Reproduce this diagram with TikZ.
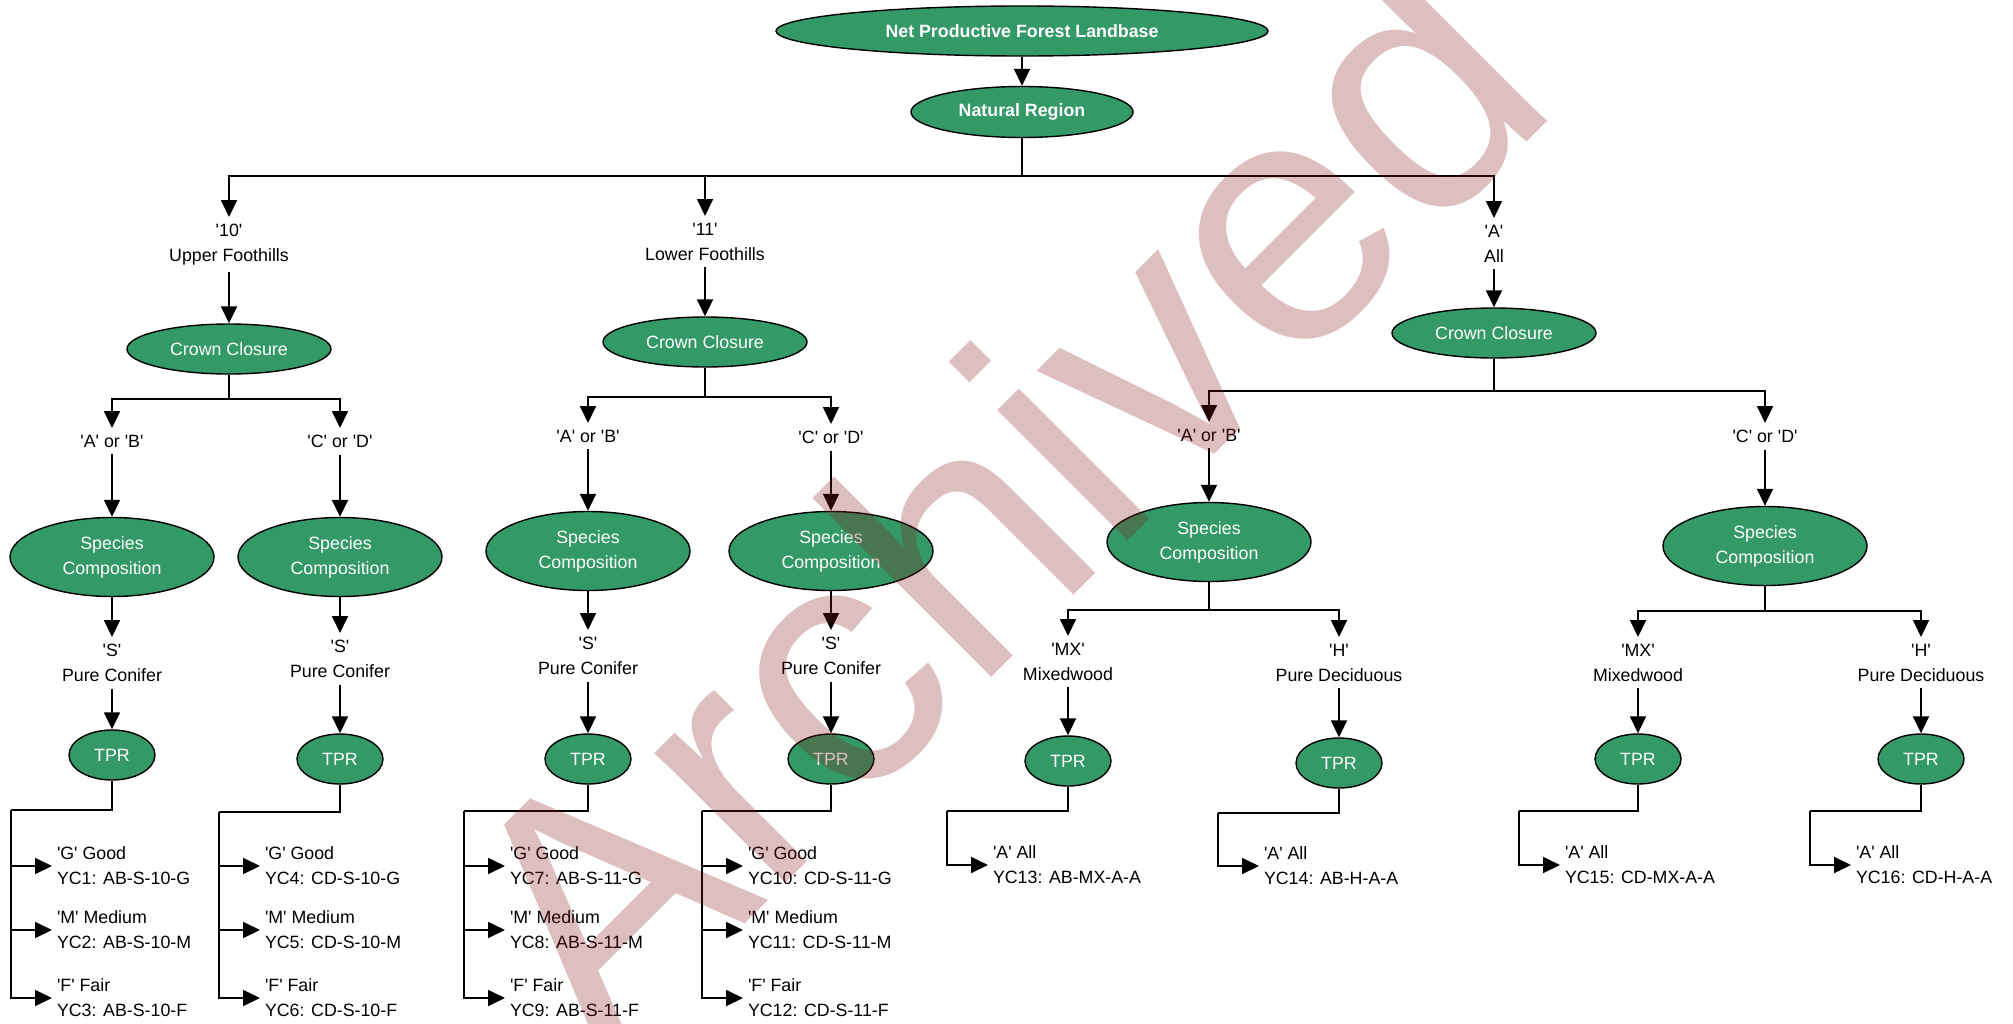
\documentclass[tikz,border=0pt]{standalone}
\usepackage{fontspec}
\setmainfont{Liberation Sans}[Ligatures=TeXOff]
\usetikzlibrary{shapes.geometric,arrows.meta}
\definecolor{nodegreen}{RGB}{51,153,102}
\definecolor{stampred}{RGB}{135,22,26}
\begin{document}
\begin{tikzpicture}[x=1pt,y=-1pt,
  txt/.style={font=\fontsize{17.8}{25}\selectfont},
  oval/.style={ellipse,draw=black,line width=1.4pt,fill=nodegreen,text=white,
    inner sep=0pt,align=center,txt},
  headoval/.style={oval,font=\fontsize{17.8}{25}\selectfont\bfseries},
  ccoval/.style={oval,minimum width=204pt,minimum height=50pt},
  scoval/.style={oval,minimum width=204pt,minimum height=79pt},
  tproval/.style={oval,minimum width=86pt,minimum height=50pt},
  lbl/.style={txt,align=center,inner sep=0pt,outer ysep=7pt,anchor=north},
  yc/.style={txt,align=left,inner sep=0pt,outer xsep=5pt,anchor=west},
  link/.style={line width=1.8pt},
  arr/.style={link,-{Triangle[length=17pt,width=16pt]}},
]
\useasboundingbox (0,0) rectangle (2013,1023);

% --- top of the tree
\node[headoval,minimum width=492pt,minimum height=50pt] (npf) at (1022,31) {Net Productive Forest Landbase};
\node[headoval,minimum width=222pt,minimum height=51pt] (nr) at (1022,112) {Natural Region};
\draw[arr] (npf) -- (nr);

\coordinate (j0) at (1022,176);
\node[lbl] (r10) at (229,217) {'10'\\Upper Foothills};
\node[lbl] (r11) at (705,216) {'11'\\Lower Foothills};
\node[lbl] (rA)  at (1494,218) {'A'\\All};
\draw[link] (nr.south) -- (j0);
\draw[arr] (j0) -| (r10.north);
\draw[arr] (j0) -- (r11.north |- j0) -- (r11.north);
\draw[arr] (j0) -| (rA.north);

% --- crown closure
\node[ccoval] (cc1) at (229,349) {Crown Closure};
\node[ccoval] (cc2) at (705,342) {Crown Closure};
\node[ccoval] (cc3) at (1494,333) {Crown Closure};
\draw[arr] (r10.south) -- (cc1.north);
\draw[arr] (r11.south) -- (cc2.north);
\draw[arr] (rA.south) -- (cc3.north);

\coordinate (j1) at (229,399);
\coordinate (j2) at (705,397);
\coordinate (j3) at (1494,391);
\node[lbl] (ab1) at (112,428) {'A' or 'B'};
\node[lbl] (cd1) at (340,428) {'C' or 'D'};
\node[lbl] (ab2) at (588,423) {'A' or 'B'};
\node[lbl] (cd2) at (831,424) {'C' or 'D'};
\node[lbl] (ab3) at (1209,422) {'A' or 'B'};
\node[lbl] (cd3) at (1765,423) {'C' or 'D'};
\draw[link] (cc1.south) -- (j1);
\draw[link] (cc2.south) -- (j2);
\draw[link] (cc3.south) -- (j3);
\draw[arr] (j1) -| (ab1.north);
\draw[arr] (j1) -| (cd1.north);
\draw[arr] (j2) -| (ab2.north);
\draw[arr] (j2) -| (cd2.north);
\draw[arr] (j3) -| (ab3.north);
\draw[arr] (j3) -| (cd3.north);

% --- species composition
\node[scoval] (s1) at (112,557) {Species\\Composition};
\node[scoval] (s2) at (340,557) {Species\\Composition};
\node[scoval] (s3) at (588,551) {Species\\Composition};
\node[scoval] (s4) at (831,551) {Species\\Composition};
\node[scoval] (s5) at (1209,542) {Species\\Composition};
\node[scoval] (s6) at (1765,546) {Species\\Composition};
\draw[arr] (ab1.south) -- (s1.north);
\draw[arr] (cd1.south) -- (s2.north);
\draw[arr] (ab2.south) -- (s3.north);
\draw[arr] (cd2.south) -- (s4.north);
\draw[arr] (ab3.south) -- (s5.north);
\draw[arr] (cd3.south) -- (s6.north);

\node[lbl] (sp1) at (112,637) {'S'\\Pure Conifer};
\node[lbl] (sp2) at (340,633) {'S'\\Pure Conifer};
\node[lbl] (sp3) at (588,630) {'S'\\Pure Conifer};
\node[lbl] (sp4) at (831,630) {'S'\\Pure Conifer};
\draw[arr] (s1.south) -- (sp1.north);
\draw[arr] (s2.south) -- (sp2.north);
\draw[arr] (s3.south) -- (sp3.north);
\draw[arr] (s4.south) -- (sp4.north);

\coordinate (j5) at (1209,610);
\coordinate (j6) at (1765,611);
\node[lbl] (mx1) at (1068,636) {'MX'\\Mixedwood};
\node[lbl] (hd1) at (1339,637) {'H'\\Pure Deciduous};
\node[lbl] (mx2) at (1638,637) {'MX'\\Mixedwood};
\node[lbl] (hd2) at (1921,637) {'H'\\Pure Deciduous};
\draw[link] (s5.south) -- (j5);
\draw[link] (s6.south) -- (j6);
\draw[arr] (j5) -| (mx1.north);
\draw[arr] (j5) -| (hd1.north);
\draw[arr] (j6) -| (mx2.north);
\draw[arr] (j6) -| (hd2.north);

% --- TPR
\node[tproval] (t1) at (112,755) {TPR};
\node[tproval] (t2) at (340,759) {TPR};
\node[tproval] (t3) at (588,759) {TPR};
\node[tproval] (t4) at (831,759) {TPR};
\node[tproval] (t5) at (1068,761) {TPR};
\node[tproval] (t6) at (1339,763) {TPR};
\node[tproval] (t7) at (1638,759) {TPR};
\node[tproval] (t8) at (1921,759) {TPR};
\draw[arr] (sp1.south) -- (t1.north);
\draw[arr] (sp2.south) -- (t2.north);
\draw[arr] (sp3.south) -- (t3.north);
\draw[arr] (sp4.south) -- (t4.north);
\draw[arr] (mx1.south) -- (t5.north);
\draw[arr] (hd1.south) -- (t6.north);
\draw[arr] (mx2.south) -- (t7.north);
\draw[arr] (hd2.south) -- (t8.north);

% --- yield curves
\coordinate (k1) at (11,810);
\coordinate (k2) at (219,812);
\coordinate (k3) at (464,811);
\coordinate (k4) at (702,811);
\coordinate (k5) at (947,811);
\coordinate (k6) at (1218,813);
\coordinate (k7) at (1519,811);
\coordinate (k8) at (1810,811);

\node[yc] (g1) at (52,866) {'G' Good\\YC1: AB-S-10-G};
\node[yc] (m1) at (52,930) {'M' Medium\\YC2: AB-S-10-M};
\node[yc] (f1) at (52,998) {'F' Fair\\YC3: AB-S-10-F};
\node[yc] (g2) at (260,866) {'G' Good\\YC4: CD-S-10-G};
\node[yc] (m2) at (260,930) {'M' Medium\\YC5: CD-S-10-M};
\node[yc] (f2) at (260,998) {'F' Fair\\YC6: CD-S-10-F};
\node[yc] (g3) at (505,866) {'G' Good\\YC7: AB-S-11-G};
\node[yc] (m3) at (505,930) {'M' Medium\\YC8: AB-S-11-M};
\node[yc] (f3) at (505,998) {'F' Fair\\YC9: AB-S-11-F};
\node[yc] (g4) at (743,866) {'G' Good\\YC10: CD-S-11-G};
\node[yc] (m4) at (743,930) {'M' Medium\\YC11: CD-S-11-M};
\node[yc] (f4) at (743,998) {'F' Fair\\YC12: CD-S-11-F};
\node[yc] (a5) at (988,865) {'A' All\\YC13: AB-MX-A-A};
\node[yc] (a6) at (1259,866) {'A' All\\YC14: AB-H-A-A};
\node[yc] (a7) at (1560,865) {'A' All\\YC15: CD-MX-A-A};
\node[yc] (a8) at (1851,865) {'A' All\\YC16: CD-H-A-A};

\foreach \t/\k in {t1/k1,t2/k2,t3/k3,t4/k4,t5/k5,t6/k6,t7/k7,t8/k8}
  \draw[link] (\t.south) |- (\k);
\foreach \k/\n in {k1/g1,k1/m1,k1/f1,k2/g2,k2/m2,k2/f2,k3/g3,k3/m3,k3/f3,
                   k4/g4,k4/m4,k4/f4,k5/a5,k6/a6,k7/a7,k8/a8}
  \draw[arr] (\k) |- (\n.west);

% --- archive stamp laid over the chart
\begin{scope}
  \clip (0,0) rectangle (2013,1023);
  \node[rotate=45,anchor=base west,inner sep=0pt,text=stampred,text opacity=0.275,
        font=\fontsize{349}{349}\selectfont] (stamp) at (604,1065) {Archived};
\end{scope}
\end{tikzpicture}
\end{document}
